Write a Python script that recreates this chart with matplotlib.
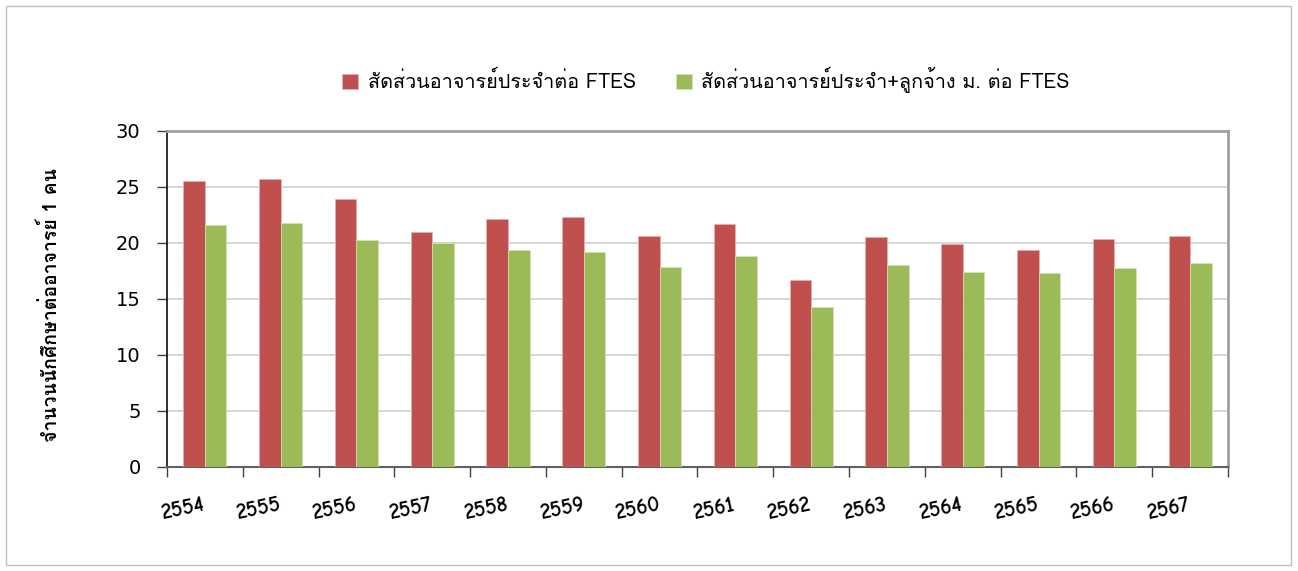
import matplotlib
matplotlib.use("Agg")
import matplotlib.pyplot as plt
import numpy as np
from matplotlib.patches import Rectangle

years = ['2554', '2555', '2556', '2557', '2558', '2559', '2560',
         '2561', '2562', '2563', '2564', '2565', '2566', '2567']
ratio_permanent = [25.5, 25.7, 23.9, 21.0, 22.1, 22.3, 20.6,
                   21.7, 16.7, 20.5, 19.9, 19.4, 20.4, 20.6]
ratio_with_staff = [21.6, 21.8, 20.3, 20.0, 19.4, 19.2, 17.9,
                    18.8, 14.3, 18.0, 17.4, 17.3, 17.8, 18.2]
series_labels = ['สัดส่วนอาจารย์ประจำต่อ FTES',
                 'สัดส่วนอาจารย์ประจำ+ลูกจ้าง ม. ต่อ FTES']
y_label = 'จำนวนนักศึกษาต่ออาจารย์ 1 คน'
y_ticks = [0, 5, 10, 15, 20, 25, 30]

RED = '#C0504D'
GREEN = '#9BBB59'
THAI = ['Loma', 'Noto Sans Thai', 'DejaVu Sans']

fig = plt.figure(figsize=(12.98, 5.71), dpi=100)
fig.patches.append(Rectangle((6/1298, 6/571), (1291-6)/1298, (565-6)/571,
                             transform=fig.transFigure, fill=False,
                             edgecolor='#BFBFBF', linewidth=1))

ax = fig.add_axes([167/1298, 1 - 467/571, (1228-167)/1298, (467-131)/571])

x = np.arange(len(years))
w = 0.285
ax.bar(x - w/2, ratio_permanent, width=w, color=RED, edgecolor='#E8B0AE', linewidth=0.5,
       label=series_labels[0], zorder=3)
ax.bar(x + w/2, ratio_with_staff, width=w, color=GREEN, edgecolor='#D4E4B8', linewidth=0.5,
       label=series_labels[1], zorder=3)

ax.set_xlim(-0.5, len(years) - 0.5)
ax.set_ylim(0, 30)
ax.set_yticks(y_ticks)
ax.set_yticklabels([str(t) for t in y_ticks], fontsize=14, family=['DejaVu Sans'])
ax.yaxis.grid(True, color='#D0D0D0', linewidth=1.2, zorder=0)
ax.set_axisbelow(True)

ax.set_xticks(np.arange(len(years) + 1) - 0.5)
ax.set_xticklabels([])
ax.tick_params(axis='x', direction='out', length=7, width=1, color='#404040')
ax.tick_params(axis='y', direction='out', length=7, width=1, color='#404040', pad=12)

for i, yr in enumerate(years):
    ax.text(i - 0.28, -3.75, yr, rotation=12, ha='center', va='center',
            fontsize=15.5, family=['Comic Neue', 'DejaVu Sans'], fontweight='bold')

ax.spines['left'].set_color('#202020')
ax.spines['left'].set_linewidth(1.3)
ax.spines['bottom'].set_color('#606060')
ax.spines['bottom'].set_linewidth(1.5)
ax.spines['right'].set_color('#A0A0A0')
ax.spines['right'].set_linewidth(2)
ax.spines['top'].set_color('#A0A0A0')
ax.spines['top'].set_linewidth(2)

fig.text(50/1298, 1 - 305/571, y_label, rotation=90, ha='center', va='center',
         fontsize=14, fontweight='bold', family=THAI)

leg = fig.legend(loc='center', bbox_to_anchor=(706/1298, 1 - 80/571), ncol=2,
                 frameon=False, prop={'family': THAI, 'size': 14.3},
                 handlelength=0.8, handleheight=0.8, columnspacing=2.0, handletextpad=0.5)

fig.savefig('out.png', dpi=100)
